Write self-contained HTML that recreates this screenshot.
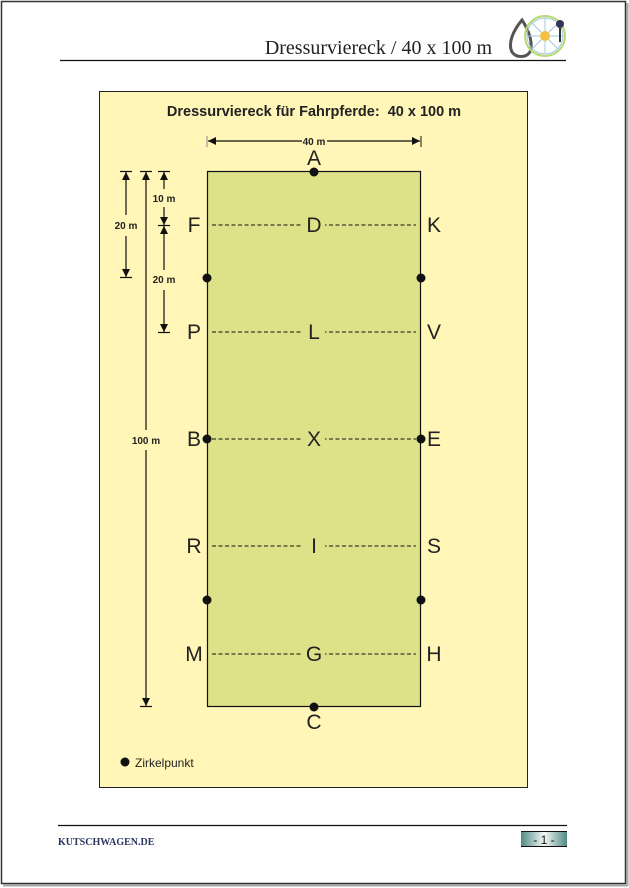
<!DOCTYPE html>
<html><head><meta charset="utf-8"><style>
html,body{margin:0;padding:0;background:#fff;}
svg{display:block;}
</style></head><body>
<svg width="629" height="888" viewBox="0 0 629 888" xmlns="http://www.w3.org/2000/svg" font-family="Liberation Sans, Arial, sans-serif">
<defs>
<marker id="ar" viewBox="0 0 10 10" refX="10" refY="5" markerWidth="8" markerHeight="8" orient="auto-start-reverse" markerUnits="userSpaceOnUse"><path d="M0,0 L10,5 L0,10 z" fill="#111"/></marker>
<linearGradient id="pg" x1="0" x2="1"><stop offset="0" stop-color="#4f8a85"/><stop offset="0.5" stop-color="#f4f8f7"/><stop offset="1" stop-color="#4f8a85"/></linearGradient>
</defs>
<rect x="0" y="0" width="629" height="888" fill="#fff"/>
<rect x="1.5" y="1.5" width="624" height="882" fill="none" stroke="#333" stroke-width="1.5"/>
<line x1="3" y1="885.5" x2="628" y2="885.5" stroke="#aaa" stroke-width="2"/>
<line x1="627.5" y1="3" x2="627.5" y2="886" stroke="#aaa" stroke-width="2"/>
<text x="492" y="54" text-anchor="end" font-family="Liberation Serif, serif" font-size="20" fill="#222">Dressurviereck / 40 x 100 m</text>
<line x1="60" y1="60.5" x2="566" y2="60.5" stroke="#111" stroke-width="1.2"/>
<path d="M522,20 C512,32 508,44 512,52 C516,58 526,58 530,52 C533,44 530,32 522,20 Z" fill="none" stroke="#555" stroke-width="3"/>
<circle cx="545" cy="36" r="20" fill="none" stroke="#b8d870" stroke-width="2"/>
<circle cx="545" cy="36" r="18" fill="none" stroke="#9cc8e0" stroke-width="1"/>
<g stroke="#9cc8e0" stroke-width="1"><line x1="527" y1="36" x2="563" y2="36"/><line x1="545" y1="18" x2="545" y2="54"/><line x1="532" y1="23" x2="558" y2="49"/><line x1="558" y1="23" x2="532" y2="49"/></g>
<circle cx="545" cy="36" r="5" fill="#f5c040"/>
<circle cx="560" cy="24" r="4" fill="#335" />
<line x1="560" y1="28" x2="560" y2="42" stroke="#333" stroke-width="2"/>
<rect x="99.5" y="91.5" width="428" height="696" fill="#fff6b8" stroke="#222" stroke-width="1"/>
<text x="314" y="116" text-anchor="middle" font-size="14.5" font-weight="bold" fill="#222">Dressurviereck für Fahrpferde:&#160; 40 x 100 m</text>
<line x1="207" y1="136" x2="207" y2="147" stroke="#888" stroke-width="1"/>
<line x1="421" y1="136" x2="421" y2="147" stroke="#111" stroke-width="1"/>
<line x1="302" y1="141" x2="208" y2="141" stroke="#111" stroke-width="1.2" marker-end="url(#ar)"/>
<line x1="327" y1="141" x2="420" y2="141" stroke="#111" stroke-width="1.2" marker-end="url(#ar)"/>
<text x="314" y="145" text-anchor="middle" font-size="10" font-weight="bold" fill="#222">40 m</text>
<rect x="207.5" y="171.5" width="213" height="535" fill="#dde288" stroke="#111" stroke-width="1.2"/>
<g stroke="#111" stroke-width="1" stroke-dasharray="4,2.5">
<line x1="212" y1="225" x2="416" y2="225"/><line x1="212" y1="332" x2="416" y2="332"/><line x1="212" y1="439" x2="416" y2="439"/><line x1="212" y1="546" x2="416" y2="546"/><line x1="212" y1="654" x2="416" y2="654"/>
</g>
<g fill="#dde288"><rect x="303" y="215" width="22" height="20"/><rect x="303" y="322" width="22" height="20"/><rect x="303" y="429" width="22" height="20"/><rect x="303" y="536" width="22" height="20"/><rect x="303" y="644" width="22" height="20"/></g>
<g fill="#111"><circle cx="314" cy="172" r="4.5"/><circle cx="314" cy="707" r="4.5"/><circle cx="207" cy="278" r="4.5"/><circle cx="421" cy="278" r="4.5"/><circle cx="207" cy="439" r="4.5"/><circle cx="421" cy="439" r="4.5"/><circle cx="207" cy="600" r="4.5"/><circle cx="421" cy="600" r="4.5"/><circle cx="125" cy="762" r="4.5"/></g>
<g font-size="21" fill="#222" text-anchor="middle">
<text x="314" y="165">A</text><text x="314" y="729">C</text>
<text x="194" y="232">F</text><text x="314" y="232">D</text><text x="434" y="232">K</text>
<text x="194" y="339">P</text><text x="314" y="339">L</text><text x="434" y="339">V</text>
<text x="194" y="446">B</text><text x="314" y="446">X</text><text x="434" y="446">E</text>
<text x="194" y="553">R</text><text x="314" y="553">I</text><text x="434" y="553">S</text>
<text x="194" y="661">M</text><text x="314" y="661">G</text><text x="434" y="661">H</text>
</g>
<text x="135" y="767" font-size="12" fill="#222">Zirkelpunkt</text>
<g stroke="#111" stroke-width="1.2">
<line x1="120" y1="171.5" x2="132" y2="171.5"/><line x1="140" y1="171.5" x2="152" y2="171.5"/><line x1="158" y1="171.5" x2="170" y2="171.5"/>
<line x1="120" y1="277.5" x2="132" y2="277.5"/><line x1="140" y1="706.5" x2="152" y2="706.5"/>
<line x1="158" y1="225.5" x2="170" y2="225.5"/><line x1="158" y1="332.5" x2="170" y2="332.5"/>
<line x1="126" y1="215" x2="126" y2="172" marker-end="url(#ar)"/><line x1="126" y1="236" x2="126" y2="277" marker-end="url(#ar)"/>
<line x1="146" y1="430" x2="146" y2="172" marker-end="url(#ar)"/><line x1="146" y1="450" x2="146" y2="706" marker-end="url(#ar)"/>
<line x1="164" y1="189" x2="164" y2="172" marker-end="url(#ar)"/><line x1="164" y1="207" x2="164" y2="225" marker-end="url(#ar)"/>
<line x1="164" y1="270" x2="164" y2="226" marker-end="url(#ar)"/><line x1="164" y1="290" x2="164" y2="332" marker-end="url(#ar)"/>
</g>
<g font-size="10" font-weight="bold" fill="#222" text-anchor="middle">
<text x="126" y="229">20 m</text><text x="146" y="444">100 m</text><text x="164" y="202">10 m</text><text x="164" y="283">20 m</text>
</g>
<line x1="58" y1="825.5" x2="567" y2="825.5" stroke="#111" stroke-width="1.2"/>
<text x="58" y="845" font-family="Liberation Serif, serif" font-size="10" font-weight="bold" fill="#2a3560">KUTSCHWAGEN.DE</text>
<rect x="521" y="831" width="46" height="16" fill="url(#pg)"/>
<line x1="521" y1="831.5" x2="567" y2="831.5" stroke="#111"/><line x1="521" y1="846.5" x2="567" y2="846.5" stroke="#111"/>
<text x="544" y="844" text-anchor="middle" font-size="12" fill="#111">- 1 -</text>
</svg>
</body></html>
